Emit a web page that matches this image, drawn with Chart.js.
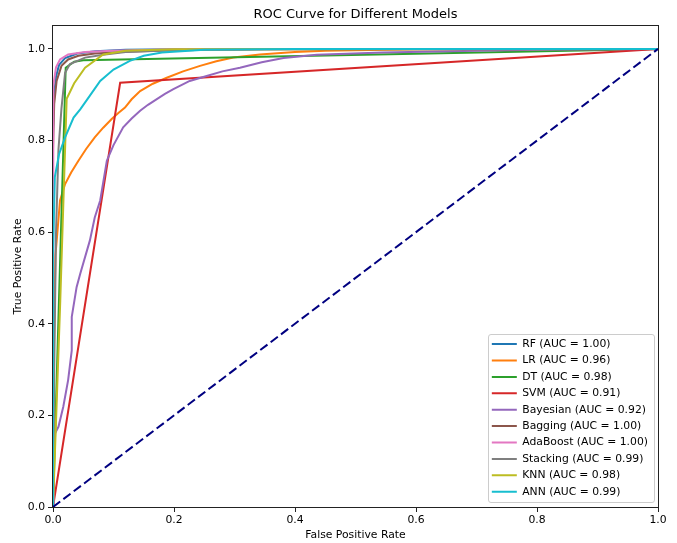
<!DOCTYPE html>
<html>
<head>
<meta charset="utf-8">
<script src="https://cdn.jsdelivr.net/npm/chart.js@4.4.1/dist/chart.umd.min.js"></script>
<style>
html,body{margin:0;padding:0;background:#fff;}
#wrap{width:677px;height:543px;}
</style>
</head>
<body>
<div id="wrap"><canvas id="c" width="677" height="543"></canvas></div>
<script>
// ---------- data ----------
const models = ["RF", "LR", "DT", "SVM", "Bayesian", "Bagging", "AdaBoost", "Stacking", "KNN", "ANN"];
const aucs = [1.00, 0.96, 0.98, 0.91, 0.92, 1.00, 1.00, 0.99, 0.98, 0.99];
const colors = ["#1f77b4", "#ff7f0e", "#2ca02c", "#d62728", "#9467bd", "#8c564b", "#e377c2", "#7f7f7f", "#bcbd22", "#17becf"];

const rfFpr = [0, 0, 0.002, 0.005, 0.01, 0.02, 0.04, 0.07, 0.12, 0.2, 0.35, 1];
const rfTpr = [0, 0.82, 0.9, 0.94, 0.965, 0.98, 0.99, 0.995, 0.998, 0.999, 1, 1];

const lrFpr = [0, 0.001, 0.004, 0.006, 0.0116, 0.02, 0.03, 0.042, 0.055, 0.069, 0.083, 0.097, 0.108, 0.119, 0.13, 0.144, 0.165, 0.188, 0.215, 0.243, 0.27, 0.298, 0.342, 0.4, 0.45, 0.6, 1];
const lrTpr = [0, 0.3, 0.55, 0.58, 0.669, 0.705, 0.73, 0.756, 0.782, 0.807, 0.828, 0.847, 0.86, 0.872, 0.89, 0.908, 0.924, 0.937, 0.951, 0.963, 0.973, 0.981, 0.988, 0.993, 0.996, 0.999, 1];

const dtFpr = [0, 0.021, 0.035, 0.05, 1];
const dtTpr = [0, 0.959, 0.972, 0.975, 1];

const svmFpr = [0, 0.111, 1];
const svmTpr = [0, 0.926, 1];

const bayFpr = [0, 0.001, 0.003, 0.009, 0.017, 0.025, 0.031, 0.031, 0.039, 0.045, 0.061, 0.069, 0.078, 0.089, 0.1, 0.116, 0.13, 0.144, 0.157, 0.171, 0.185, 0.199, 0.226, 0.254, 0.28, 0.309, 0.345, 0.381, 0.436, 0.545, 0.656, 0.8, 1];
const bayTpr = [0, 0.12, 0.16, 0.175, 0.219, 0.277, 0.342, 0.415, 0.48, 0.509, 0.582, 0.632, 0.669, 0.756, 0.79, 0.829, 0.848, 0.865, 0.878, 0.89, 0.902, 0.912, 0.93, 0.941, 0.951, 0.959, 0.971, 0.98, 0.987, 0.992, 0.995, 0.998, 1];

const bagFpr = [0, 0, 0.002, 0.006, 0.014, 0.025, 0.042, 0.069, 0.119, 0.2, 0.35, 1];
const bagTpr = [0, 0.78, 0.88, 0.93, 0.963, 0.977, 0.985, 0.99, 0.994, 0.997, 0.999, 1];

const adaFpr = [0, 0, 0.001, 0.005, 0.0116, 0.025, 0.053, 0.097, 0.2, 0.4, 1];
const adaTpr = [0, 0.72, 0.92, 0.96, 0.977, 0.988, 0.993, 0.996, 0.999, 1, 1];

const stkFpr = [0, 0.002, 0.005, 0.009, 0.014, 0.02, 0.028, 0.053, 0.086, 0.12, 0.2, 0.35, 1];
const stkTpr = [0, 0.3, 0.6, 0.78, 0.87, 0.948, 0.967, 0.981, 0.988, 0.993, 0.997, 0.999, 1];

const knnFpr = [0, 0.004, 0.012, 0.018, 0.0226, 0.035, 0.053, 0.083, 0.12, 0.2, 1];
const knnTpr = [0, 0.15, 0.45, 0.7, 0.891, 0.925, 0.959, 0.988, 0.996, 0.999, 1];

const annFpr = [0, 0, 0.003, 0.01, 0.02, 0.034, 0.045, 0.061, 0.078, 0.1, 0.127, 0.15, 0.18, 0.25, 0.4, 1];
const annTpr = [0, 0.55, 0.72, 0.77, 0.807, 0.85, 0.868, 0.898, 0.93, 0.955, 0.974, 0.985, 0.992, 0.998, 1, 1];

const chanceFpr = [0, 1];
const chanceTpr = [0, 1];

const xTicks = [0.0, 0.2, 0.4, 0.6, 0.8, 1.0];
const yTicks = [0.0, 0.2, 0.4, 0.6, 0.8, 1.0];

// ---------- build ----------
const fprs = [rfFpr, lrFpr, dtFpr, svmFpr, bayFpr, bagFpr, adaFpr, stkFpr, knnFpr, annFpr];
const tprs = [rfTpr, lrTpr, dtTpr, svmTpr, bayTpr, bagTpr, adaTpr, stkTpr, knnTpr, annTpr];
const zip = (xs, ys) => xs.map((x, i) => ({x: x, y: ys[i]}));

const datasets = models.map((m, i) => ({
  label: m + " (AUC = " + aucs[i].toFixed(2) + ")",
  data: zip(fprs[i], tprs[i]),
  borderColor: colors[i],
  backgroundColor: colors[i],
  borderWidth: 2,
  pointRadius: 0,
  showLine: true,
  tension: 0,
  fill: false,
  order: models.length - i
}));
datasets.push({
  label: "chance",
  data: zip(chanceFpr, chanceTpr),
  borderColor: "navy",
  backgroundColor: "navy",
  borderWidth: 2,
  borderDash: [9, 4],
  pointRadius: 0,
  showLine: true,
  fill: false,
  order: 0
});

const FS = 10.8;
Chart.defaults.font.family = "'DejaVu Sans', 'Liberation Sans', sans-serif";
Chart.defaults.font.size = FS;
Chart.defaults.color = "#000";

const legendPlace = {
  id: "legendPlace",
  afterLayout(chart) {
    const lg = chart.legend, ca = chart.chartArea;
    if (!lg || !lg.columnSizes || !lg.columnSizes.length) return;
    const pad = lg.options.labels.padding;
    const colW = lg.columnSizes[0].width;
    lg.right = ca.right - 5;
    lg.left = lg.right - (colW + pad + 5);
    lg.width = lg.right - lg.left;
    lg.bottom = ca.bottom - 4.3;
    lg.top = ca.top;
    lg.height = lg.bottom - lg.top;
  },
  beforeDraw(chart) {
    const lg = chart.legend;
    const hb = lg && lg.legendHitBoxes;
    if (!hb || !hb.length) return;
    const ca = chart.chartArea;
    const ctx = chart.ctx;
    const x0 = Math.round(hb[0].left - 3.5);
    const y0 = Math.round(hb[0].top - 5);
    const x1 = Math.round(ca.right - 4.5);
    const y1 = Math.round(ca.bottom - 5.5);
    ctx.save();
    ctx.beginPath();
    ctx.roundRect(x0 + 0.5, y0 + 0.5, x1 - x0, y1 - y0, 2.5);
    ctx.fillStyle = "rgba(255,255,255,0.8)";
    ctx.fill();
    ctx.strokeStyle = "#cccccc";
    ctx.lineWidth = 1;
    ctx.stroke();
    ctx.restore();
  },
  afterDraw(chart) {
    const ca = chart.chartArea, ctx = chart.ctx;
    ctx.save();
    ctx.strokeStyle = "#222";
    ctx.lineWidth = 1;
    ctx.strokeRect(ca.left - 0.5, ca.top - 0.5, ca.right - ca.left + 1, ca.bottom - ca.top + 1);
    ctx.restore();
  }
};

new Chart(document.getElementById("c"), {
  type: "scatter",
  data: {datasets: datasets},
  options: {
    responsive: false,
    animation: false,
    devicePixelRatio: 1,
    layout: {padding: {left: 0, right: 19, top: 0, bottom: 0}},
    plugins: {
      title: {
        display: true,
        fullSize: false,
        text: "ROC Curve for Different Models",
        color: "#000",
        font: {size: 13, weight: "normal"},
        padding: {top: 7, bottom: 3.4}
      },
      legend: {
        display: true,
        position: "chartArea",
        align: "end",
        labels: {
          usePointStyle: true,
          pointStyle: "line",
          pointStyleWidth: 25,
          padding: 5.6,
          color: "#000",
          font: {size: FS},
          filter: (item) => item.datasetIndex < models.length,
          sort: (a, b) => a.datasetIndex - b.datasetIndex
        }
      },
      tooltip: {enabled: false}
    },
    scales: {
      x: {
        type: "linear",
        min: 0,
        max: 1,
        afterBuildTicks: (s) => { s.ticks = xTicks.map(v => ({value: v})); },
        afterFit: (s) => { s.height = 36; },
        ticks: {callback: (v) => Number(v).toFixed(1), color: "#000", padding: 2, maxRotation: 0},
        grid: {display: true, drawOnChartArea: false, drawTicks: true, tickLength: 5, color: "#222"},
        border: {display: false},
        title: {display: true, text: "False Positive Rate", color: "#000", font: {size: FS}, padding: {top: 0, bottom: 1.5}}
      },
      y: {
        type: "linear",
        min: 0,
        max: 1.05,
        afterBuildTicks: (s) => { s.ticks = yTicks.map(v => ({value: v})); },
        afterFit: (s) => { s.width = 53; },
        ticks: {callback: (v) => Number(v).toFixed(1), color: "#000", padding: 3},
        grid: {display: true, drawOnChartArea: false, drawTicks: true, tickLength: 5, color: "#222"},
        border: {display: false},
        title: {display: true, text: "True Positive Rate", color: "#000", font: {size: FS}, padding: {top: 11.5, bottom: 0}}
      }
    }
  },
  plugins: [legendPlace]
});
</script>
</body>
</html>
